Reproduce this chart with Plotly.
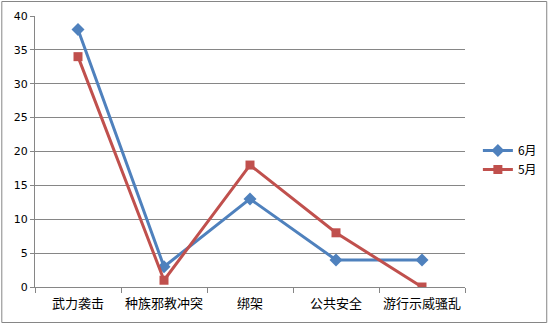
import plotly.graph_objects as go

categories = ["武力袭击", "种族邪教冲突", "绑架", "公共安全", "游行示威骚乱"]
june = [38, 3, 13, 4, 4]
may = [34, 1, 18, 8, 0]
yticks = [0, 5, 10, 15, 20, 25, 30, 35, 40]

W, H = 554, 325
L, R, T, B = 35, 85, 16, 38
pw, ph = W - L - R, H - T - B

def px_x(x):
    return (x - L) / pw

def px_y(y):
    return (H - B - y) / ph

fig = go.Figure()
fig.add_trace(go.Scatter(x=categories, y=june, name="6月", mode="lines+markers",
                         line=dict(color="#4F81BD", width=3),
                         marker=dict(symbol="diamond", size=10, color="#4F81BD")))
fig.add_trace(go.Scatter(x=categories, y=may, name="5月", mode="lines+markers",
                         line=dict(color="#C0504D", width=3),
                         marker=dict(symbol="square", size=9, color="#C0504D")))

font_family = "Verdana, DejaVu Sans, Noto Sans CJK SC"
fig.update_layout(
    width=W, height=H,
    margin=dict(l=L, r=R, t=T, b=B),
    paper_bgcolor="white", plot_bgcolor="white",
    font=dict(family=font_family, size=11, color="black"),
    showlegend=True,
    legend=dict(x=px_x(482), y=px_y(160), xanchor="left", yanchor="middle",
                font=dict(size=12, family="Noto Sans CJK SC, DejaVu Sans"),
                bgcolor="rgba(0,0,0,0)", itemwidth=30, tracegroupgap=0),
    xaxis=dict(type="category", range=[-0.5, 4.5], showgrid=False,
               showline=True, linecolor="#868686", linewidth=1,
               ticks="outside", tickson="boundaries", ticklen=5, tickcolor="#868686",
               ticklabelstandoff=4, tickangle=0, automargin=False,
               tickfont=dict(family="Noto Sans CJK SC", size=13), fixedrange=True),
    yaxis=dict(range=[0, 40], tickvals=yticks, showgrid=True, gridcolor="#868686", gridwidth=1,
               showline=True, linecolor="#868686", linewidth=1,
               ticks="outside", ticklen=4, tickcolor="#868686", zeroline=False,
               automargin=False,
               tickfont=dict(family="Verdana, DejaVu Sans", size=11), fixedrange=True),
    shapes=[dict(type="rect", xref="paper", yref="paper",
                 x0=px_x(1.5), x1=px_x(551.5), y0=px_y(322.5), y1=px_y(1.5),
                 line=dict(color="#868686", width=1), fillcolor="rgba(0,0,0,0)", layer="below")],
)

fig.write_html("out.html")
